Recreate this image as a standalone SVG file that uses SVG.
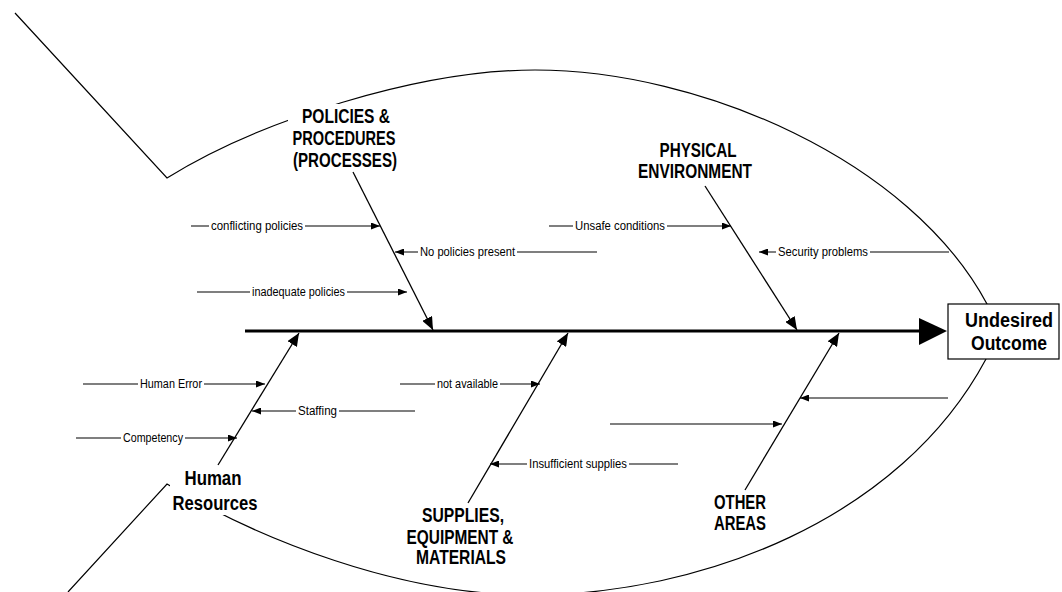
<svg xmlns="http://www.w3.org/2000/svg" width="1062" height="592" viewBox="0 0 1062 592">
<style>
.ol{fill:none;stroke:#000;stroke-width:1.2}
.br{fill:none;stroke:#000;stroke-width:1.3}
.ca{fill:none;stroke:#000;stroke-width:1.1}
.bg{fill:#fff;stroke:none}
.sm{font-family:"Liberation Sans Narrow","Liberation Sans",Arial,sans-serif;font-size:12.5px;fill:#000}
.bd{font-family:"Liberation Sans Narrow","Liberation Sans",Arial,sans-serif;font-size:20px;font-weight:bold;fill:#000;text-anchor:middle}
</style>
<defs>
<marker id="sa" viewBox="0 0 10 10" refX="10" refY="5" markerWidth="9" markerHeight="7" markerUnits="userSpaceOnUse" orient="auto" preserveAspectRatio="none"><path d="M0,0L10,5L0,10z" fill="#000"/></marker>
<marker id="ba" viewBox="0 0 10 10" refX="10" refY="5" markerWidth="13" markerHeight="11" markerUnits="userSpaceOnUse" orient="auto" preserveAspectRatio="none"><path d="M0,0L10,5L0,10z" fill="#000"/></marker>
</defs>
<rect width="1062" height="592" fill="#fff"/>
<g id="fish-outline">
<path class="ol" d="M15,13 L167,178 C260,120 420,70 535,70 C700,70 910,160 987,304 L986,359 C900,520 700,595 530,595 C400,595 260,540 167,484 L68,592"/>
</g>
<g id="connectors">
<line x1="245" y1="331" x2="921" y2="331" stroke="#000" stroke-width="3"/>
<polygon points="919,318 947,331 919,345" fill="#000"/>
<line class="br" x1="353" y1="172" x2="433" y2="330" marker-end="url(#ba)"/>
<line class="br" x1="705" y1="186" x2="797" y2="330" marker-end="url(#ba)"/>
<line class="br" x1="218" y1="465" x2="299" y2="333" marker-end="url(#ba)"/>
<line class="br" x1="468" y1="503" x2="568" y2="333" marker-end="url(#ba)"/>
<line class="br" x1="745" y1="490" x2="839" y2="333" marker-end="url(#ba)"/>
<line class="ca" x1="191" y1="226" x2="380" y2="226" marker-end="url(#sa)"/>
<line class="ca" x1="597" y1="252" x2="395" y2="252" marker-end="url(#sa)"/>
<line class="ca" x1="197" y1="292" x2="407" y2="292" marker-end="url(#sa)"/>
<line class="ca" x1="549" y1="226" x2="731" y2="226" marker-end="url(#sa)"/>
<line class="ca" x1="949" y1="252" x2="759" y2="252" marker-end="url(#sa)"/>
<line class="ca" x1="83" y1="384" x2="265" y2="384" marker-end="url(#sa)"/>
<line class="ca" x1="415" y1="411" x2="252" y2="411" marker-end="url(#sa)"/>
<line class="ca" x1="76" y1="438" x2="237" y2="438" marker-end="url(#sa)"/>
<line class="ca" x1="400" y1="384" x2="540" y2="384" marker-end="url(#sa)"/>
<line class="ca" x1="678" y1="464" x2="490" y2="464" marker-end="url(#sa)"/>
<line class="ca" x1="948" y1="398" x2="800" y2="398" marker-end="url(#sa)"/>
<line class="ca" x1="610" y1="424" x2="782" y2="424" marker-end="url(#sa)"/>
</g>
<g id="cause-conflicting-policies"><rect class="bg" x="209" y="219" width="96" height="14"/><text class="sm" x="211" y="230" textLength="92" lengthAdjust="spacingAndGlyphs">conflicting policies</text></g>
<g id="cause-no-policies-present"><rect class="bg" x="418" y="245" width="99" height="14"/><text class="sm" x="420" y="256" textLength="95" lengthAdjust="spacingAndGlyphs">No policies present</text></g>
<g id="cause-inadequate-policies"><rect class="bg" x="250" y="285" width="97" height="14"/><text class="sm" x="252" y="296" textLength="93" lengthAdjust="spacingAndGlyphs">inadequate policies</text></g>
<g id="cause-unsafe-conditions"><rect class="bg" x="573" y="219" width="94" height="14"/><text class="sm" x="575" y="230" textLength="90" lengthAdjust="spacingAndGlyphs">Unsafe conditions</text></g>
<g id="cause-security-problems"><rect class="bg" x="776" y="245" width="94" height="14"/><text class="sm" x="778" y="256" textLength="90" lengthAdjust="spacingAndGlyphs">Security problems</text></g>
<g id="cause-human-error"><rect class="bg" x="138" y="377" width="66" height="14"/><text class="sm" x="140" y="388" textLength="62" lengthAdjust="spacingAndGlyphs">Human Error</text></g>
<g id="cause-staffing"><rect class="bg" x="296" y="404" width="43" height="14"/><text class="sm" x="298" y="415" textLength="39" lengthAdjust="spacingAndGlyphs">Staffing</text></g>
<g id="cause-competency"><rect class="bg" x="121" y="431" width="64" height="14"/><text class="sm" x="123" y="442" textLength="60" lengthAdjust="spacingAndGlyphs">Competency</text></g>
<g id="cause-not-available"><rect class="bg" x="435" y="377" width="65" height="14"/><text class="sm" x="437" y="388" textLength="61" lengthAdjust="spacingAndGlyphs">not available</text></g>
<g id="cause-insufficient-supplies"><rect class="bg" x="527" y="457" width="102" height="14"/><text class="sm" x="529" y="468" textLength="98" lengthAdjust="spacingAndGlyphs">Insufficient supplies</text></g>
<g id="node-policies">
<rect class="bg" x="288" y="104" width="114" height="67"/>
<text class="bd" x="346" y="123" textLength="88" lengthAdjust="spacingAndGlyphs">POLICIES &amp;</text>
<text class="bd" x="344" y="145" textLength="103" lengthAdjust="spacingAndGlyphs">PROCEDURES</text>
<text class="bd" x="345" y="167" textLength="104" lengthAdjust="spacingAndGlyphs">(PROCESSES)</text>
</g>
<g id="node-physical">
<text class="bd" x="698" y="157" textLength="77" lengthAdjust="spacingAndGlyphs">PHYSICAL</text>
<text class="bd" x="695" y="178" textLength="114" lengthAdjust="spacingAndGlyphs">ENVIRONMENT</text>
</g>
<g id="node-human">
<rect class="bg" x="170" y="468" width="92" height="47"/>
<text class="bd" x="213" y="485" textLength="57" lengthAdjust="spacingAndGlyphs">Human</text>
<text class="bd" x="215" y="510" textLength="85" lengthAdjust="spacingAndGlyphs">Resources</text>
</g>
<g id="node-supplies">
<text class="bd" x="463" y="522" textLength="82" lengthAdjust="spacingAndGlyphs">SUPPLIES,</text>
<text class="bd" x="460" y="544" textLength="107" lengthAdjust="spacingAndGlyphs">EQUIPMENT &amp;</text>
<text class="bd" x="461" y="564" textLength="90" lengthAdjust="spacingAndGlyphs">MATERIALS</text>
</g>
<g id="node-other">
<text class="bd" x="740" y="509" textLength="52" lengthAdjust="spacingAndGlyphs">OTHER</text>
<text class="bd" x="740" y="530" textLength="52" lengthAdjust="spacingAndGlyphs">AREAS</text>
</g>
<g id="node-outcome">
<rect x="948" y="304" width="111" height="55" fill="#fff" stroke="#000" stroke-width="1.2"/>
<text class="bd" x="1009" y="327" textLength="88" lengthAdjust="spacingAndGlyphs">Undesired</text>
<text class="bd" x="1009" y="350" textLength="76" lengthAdjust="spacingAndGlyphs">Outcome</text>
</g>
</svg>
